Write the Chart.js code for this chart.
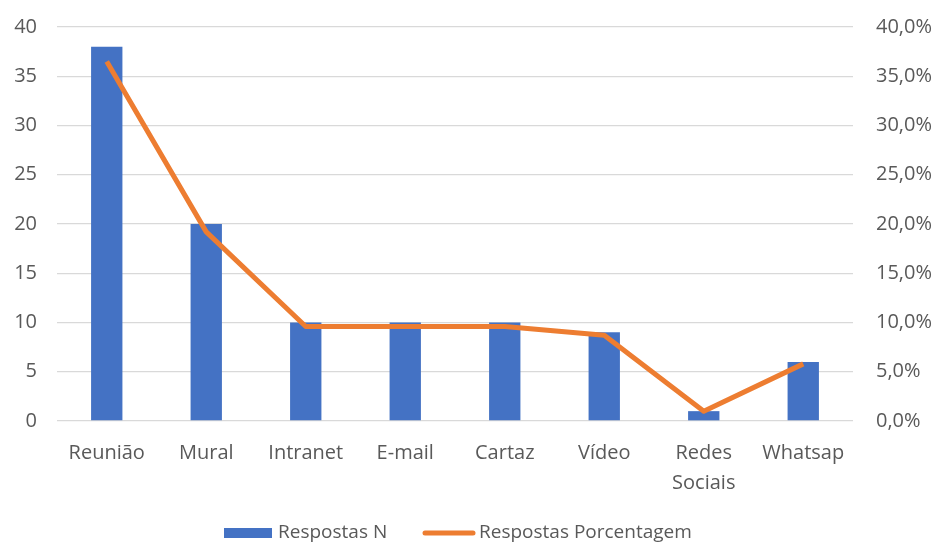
<!DOCTYPE html>
<html>
<head>
<meta charset="utf-8">
<script src="https://cdn.jsdelivr.net/npm/chart.js@4/dist/chart.umd.min.js"></script>
<style>
  html, body { margin: 0; padding: 0; background: #fff; }
  #wrap { width: 941px; height: 546px; }
</style>
</head>
<body>
<div id="wrap"><canvas id="chart" width="941" height="546"></canvas></div>
<script>
// Canais de comunicação: número de respostas e porcentagem
const categories = ["Reunião", "Mural", "Intranet", "E-mail", "Cartaz", "Vídeo", ["Redes", "Sociais"], "Whatsap"];
const respostasN = [38, 20, 10, 10, 10, 9, 1, 6];
const respostasPct = [36.5, 19.2, 9.6, 9.6, 9.6, 8.7, 1.0, 5.8];
const countTicks = [0, 5, 10, 15, 20, 25, 30, 35, 40];
const pctTicks = [0, 5, 10, 15, 20, 25, 30, 35, 40];

const BLUE = "#4472C4";
const ORANGE = "#ED7D31";
const TEXT = "#595959";
const GRID = "#D9D9D9";
const FONT = "'Open Sans', sans-serif";
const FONT_SIZE = 20;

// legend drawn under the plot: box for the bars, thick line for the series
const bottomLegend = {
  id: "bottomLegend",
  afterDraw(chart) {
    const ctx = chart.ctx;
    const bars = chart.data.datasets.find(d => d.type === "bar");
    const line = chart.data.datasets.find(d => d.type === "line");
    const y = 533;
    ctx.save();
    ctx.font = "19px " + FONT;
    ctx.textBaseline = "middle";
    ctx.fillStyle = BLUE;
    ctx.fillRect(224, y - 5, 48, 10);
    ctx.fillStyle = TEXT;
    ctx.fillText(bars.label, 278, y);
    ctx.strokeStyle = ORANGE;
    ctx.lineWidth = 5;
    ctx.lineCap = "round";
    ctx.beginPath();
    ctx.moveTo(425, y);
    ctx.lineTo(473, y);
    ctx.stroke();
    ctx.fillText(line.label, 479, y);
    ctx.restore();
  }
};

new Chart(document.getElementById("chart"), {
  data: {
    labels: categories,
    datasets: [
      {
        type: "line",
        label: "Respostas Porcentagem",
        data: respostasPct,
        yAxisID: "yPct",
        borderColor: ORANGE,
        borderWidth: 5,
        pointRadius: 0,
        tension: 0,
        borderJoinStyle: "round",
        order: 0
      },
      {
        type: "bar",
        label: "Respostas N",
        data: respostasN,
        yAxisID: "y",
        backgroundColor: BLUE,
        categoryPercentage: 1,
        barPercentage: 0.315,
        order: 1
      }
    ]
  },
  options: {
    responsive: false,
    animation: false,
    layout: { padding: { top: 27, right: 0, left: 0, bottom: 0 } },
    plugins: {
      legend: { display: false },
      tooltip: { enabled: false }
    },
    scales: {
      x: {
        grid: { display: false },
        border: { display: false },
        ticks: {
          color: TEXT,
          font: { family: FONT, size: FONT_SIZE, lineHeight: 1.5 },
          padding: 9,
          maxRotation: 0,
          autoSkip: false
        },
        afterFit(scale) { scale.height = 125; }
      },
      y: {
        position: "left",
        min: 0,
        max: 40,
        afterBuildTicks(scale) { scale.ticks = countTicks.map(v => ({ value: v })); },
        grid: { color: GRID, lineWidth: 1.3, drawTicks: false },
        border: { display: false },
        ticks: {
          color: TEXT,
          font: { family: FONT, size: FONT_SIZE },
          padding: 20
        },
        afterFit(scale) { scale.width = 57; scale.paddingTop = 0; scale.paddingBottom = 0; }
      },
      yPct: {
        position: "right",
        min: 0,
        max: 40,
        afterBuildTicks(scale) { scale.ticks = pctTicks.map(v => ({ value: v })); },
        grid: { display: false, drawTicks: false },
        border: { display: false },
        ticks: {
          color: TEXT,
          font: { family: FONT, size: FONT_SIZE },
          padding: 23,
          callback: v => v.toFixed(1).replace(".", ",") + "%"
        },
        afterFit(scale) { scale.width = 88; scale.paddingTop = 0; scale.paddingBottom = 0; }
      }
    }
  },
  plugins: [bottomLegend]
});
</script>
</body>
</html>
